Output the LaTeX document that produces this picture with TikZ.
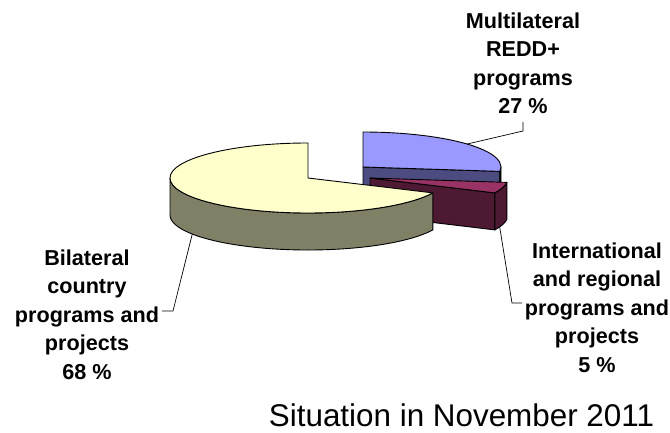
\documentclass[tikz,border=0pt]{standalone}
\usepackage{fontspec}
\setmainfont{Liberation Sans}
\definecolor{bluetop}{HTML}{9999FF}
\definecolor{blueside}{HTML}{4C4C80}
\definecolor{redtop}{HTML}{993366}
\definecolor{redside}{HTML}{4D1933}
\definecolor{yeltop}{HTML}{FFFFCC}
\definecolor{yelside}{HTML}{808066}
\tikzset{
  face/.style={draw=black,line width=0.9pt,line join=round},
  lbl/.style={font=\bfseries\fontsize{21.6}{28.5}\selectfont,align=center,inner sep=0pt},
  leader/.style={draw=black,line width=0.7pt},
  er/.style={x radius=138,y radius=35}
}
\begin{document}
\begin{tikzpicture}[x=1pt,y=1pt]
\useasboundingbox (0,0) rectangle (670,432);
\coordinate (Bc) at (363,265);
\coordinate (Rc) at (370,254);
\coordinate (Yc) at (308,254);
% blue slice
\path[face,fill=blueside] (Bc) -- ++(-7.2:138 and 35) -- ++(0,-37) -- ([yshift=-37pt]Bc) -- cycle;
\path[face,fill=blueside] ([shift={(-7.2:138 and 35)}]Bc) arc[start angle=-7.2,end angle=0,er] -- ++(0,-37) arc[start angle=0,end angle=-7.2,er] -- cycle;
\path[face,fill=bluetop] (Bc) -- ++(-7.2:138 and 35) arc[start angle=-7.2,end angle=90,er] -- cycle;
% red slice
\path[face,fill=redside] (Rc) -- ++(-25.2:138 and 35) -- ++(0,-37) -- ([yshift=-37pt]Rc) -- cycle;
\path[face,fill=redside] ([shift={(-25.2:138 and 35)}]Rc) arc[start angle=-25.2,end angle=-7.2,er] -- ++(0,-37) arc[start angle=-7.2,end angle=-25.2,er] -- cycle;
\path[face,fill=redtop] (Rc) -- ++(-25.2:138 and 35) arc[start angle=-25.2,end angle=-7.2,er] -- cycle;
% yellow slice
\path[face,fill=yelside] ([shift={(180:138 and 35)}]Yc) arc[start angle=180,end angle=334.8,er] -- ++(0,-37) arc[start angle=334.8,end angle=180,er] -- cycle;
\path[face,fill=yeltop] (Yc) -- ++(90:138 and 35) arc[start angle=90,end angle=334.8,er] -- cycle;
% labels
\node[lbl] (ml) at (523,368.5) {Multilateral\\REDD+\\programs\\27 \%};
\node[lbl] (bl) at (87,117.5) {Bilateral\\country\\programs and\\projects\\68 \%};
\node[lbl] (il) at (597,124.5) {International\\and regional\\programs and\\projects\\5 \%};
\node[font=\fontsize{31.4}{36}\selectfont,anchor=base,inner sep=0pt] (sit) at (461.5,6) {Situation in November 2011};
% leaders
\coordinate (m1) at (523,310);
\coordinate (m2) at (523,301);
\coordinate (mp) at ([shift={(41:138 and 35)}]Bc);
\draw[leader] (m1) -- (m2) -- (mp);
\coordinate (b1) at (162,121);
\coordinate (b2) at (173,121);
\coordinate (bp) at ([shift={(-147:138 and 35)},yshift=-37pt]Yc);
\draw[leader] (b1) -- (b2) -- (bp);
\coordinate (i1) at (522,129);
\coordinate (i2) at (512,129);
\coordinate (ip) at ([shift={(-20:138 and 35)},yshift=-37pt]Rc);
\draw[leader] (i1) -- (i2) -- (ip);
\end{tikzpicture}
\end{document}
